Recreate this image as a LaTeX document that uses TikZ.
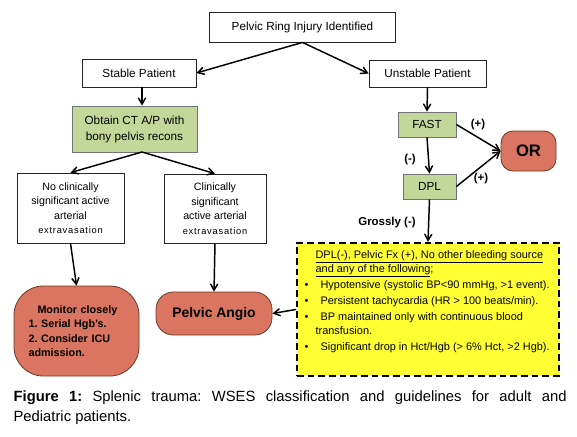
\documentclass[tikz,border=0pt]{standalone}
\usepackage{fontspec}
\setmainfont{Liberation Sans}
\usepackage{tikz}
\usetikzlibrary{arrows}
\definecolor{boxgreen}{RGB}{196,215,155}
\definecolor{boxred}{RGB}{217,117,96}
\definecolor{redline}{RGB}{110,55,40}
\definecolor{crityellow}{RGB}{255,255,51}
\newcommand{\extrav}{{\fontsize{7}{10.9}\selectfont\addfontfeature{LetterSpace=8}extravasation}}
\frenchspacing

\begin{document}
\begin{tikzpicture}[x=0.75pt, y=-0.75pt, every node/.style={inner sep=1pt, font=\fontsize{8.8}{10.5}\selectfont}]
        \tikzset{whitebox/.style={draw=black!85, semithick, fill=white, align=center}}
        \tikzset{greenbox/.style={draw=black!55, semithick, fill=boxgreen, align=center}}
        \tikzset{redbox/.style={draw=redline, semithick, fill=boxred, rounded corners=#1, font=\bfseries\fontsize{8.1}{10.9}\selectfont}}
        \tikzset{signlabel/.style={font=\bfseries\fontsize{8.6}{10}\selectfont}}
        \useasboundingbox (0,0) rectangle (577,436);
        % top level
        \node[whitebox, minimum width=140pt, minimum height=22.5pt] (injury) at (302.5,27) {Pelvic Ring Injury Identified};
        \node[whitebox, minimum width=85.5pt, minimum height=21pt] (stable) at (139,73) {Stable Patient};
        \node[whitebox, minimum width=87.75pt, minimum height=20.25pt] (unstable) at (427.5,73.5) {Unstable Patient};
        % stable patient
        \node[greenbox, minimum width=93.75pt, minimum height=34.5pt, font=\fontsize{8.8}{12}\selectfont] (ctscan) at (134.5,129) {Obtain CT A/P with\\bony pelvis recons};
        \coordinate (ctfoot) at (142,152);
        \node[whitebox, minimum width=80.25pt, minimum height=52.5pt, font=\fontsize{8}{10.9}\selectfont] (noextra) at (70.5,208) {No clinically\\significant active\\arterial\\\extrav};
        \node[whitebox, minimum width=76.5pt, minimum height=51.75pt, font=\fontsize{8}{10.9}\selectfont] (extra) at (215,208.5) {Clinically\\significant\\active arterial\\\extrav};
        \node[redbox=22pt, minimum width=93.75pt, minimum height=67.5pt, text width=72pt, align=left] (monitor) at (76.5,331) {\hspace*{6.75pt}Monitor closely\\1. Serial Hgb’s.\\2. Consider ICU\\admission.};
        \node[redbox=13pt, minimum width=87pt, minimum height=32.25pt, font=\bfseries\fontsize{10.4}{12}\selectfont] (angio) at (214,313.5) {Pelvic Angio};
        % unstable patient
        \node[greenbox, minimum width=43.5pt, minimum height=18.75pt] (fast) at (427,124.5) {FAST};
        \node[greenbox, minimum width=39.75pt, minimum height=18.75pt] (dpl) at (429.5,186.5) {DPL};
        \node[redbox=9pt, minimum width=41.25pt, minimum height=30pt, font=\bfseries\fontsize{12.5}{14}\selectfont] (orroom) at (528.5,151) {OR};
        \node[draw=black, line width=1.8pt, dash pattern=on 5pt off 3pt, fill=crityellow, minimum width=196.5pt, minimum height=99.75pt] (crit) at (428,309.5) {};
        \node[anchor=north west, align=left, font=\fontsize{8.2}{10.5}\selectfont] (crittext) at (303,249) {\hspace*{8.25pt}\underline{DPL(-), Pelvic Fx (+), No other bleeding source}\\
          \hspace*{8.25pt}\underline{and any of the following};\\[1.5pt]
          \makebox[12pt][l]{\textbullet}Hypotensive (systolic BP<90 mmHg, >1 event).\\[1.5pt]
          \makebox[12pt][l]{\textbullet}Persistent tachycardia (HR > 100 beats/min).\\[1.5pt]
          \makebox[12pt][l]{\textbullet}BP maintained only with continuous blood\\
          \hspace*{8.25pt}transfusion.\\[1.5pt]
          \makebox[12pt][l]{\textbullet}Significant drop in Hct/Hgb (> 6\% Hct, >2 Hgb).};
        % signs
        \node[signlabel] (plusfast) at (478,125) {(+)};
        \node[signlabel] (plusdpl) at (481,179) {(+)};
        \node[signlabel] (minusfast) at (410,160) {(-)};
        \node[signlabel] (grossly) at (387,223) {Grossly (-)};
        % caption
        \node[anchor=north west, align=left, font=\fontsize{11.1}{15}\selectfont] (caption) at (12,389) {\makebox[414.75pt][s]{\textbf{Figure 1:} Splenic trauma: WSES classification and guidelines for adult and}\\Pediatric patients.};
        \tikzset{flow/.style={->, >=angle 60, line width=1.1pt}};
        \path (injury.south) edge [flow] (stable.east);
        \path (injury.south) edge [flow] (unstable.west);
        \path (stable.south -| ctfoot) edge [flow] (ctscan.north -| ctfoot);
        \path (ctfoot) edge [flow] (noextra.north);
        \path (ctfoot) edge [flow] (extra.north);
        \path (noextra.south) edge [flow] (monitor.north);
        \path (extra.south) edge [flow] (angio.north);
        \path (crit.west) edge [flow] (angio.east);
        \path (unstable.south) edge [flow] (fast.north);
        \path (fast.south) edge [flow] (dpl.north);
        \path (fast.east) edge [flow] (orroom.west);
        \path (dpl.east) edge [flow] (orroom.west);
        \path (dpl.south) edge [flow] (crit.north);
      \end{tikzpicture}
\end{document}
